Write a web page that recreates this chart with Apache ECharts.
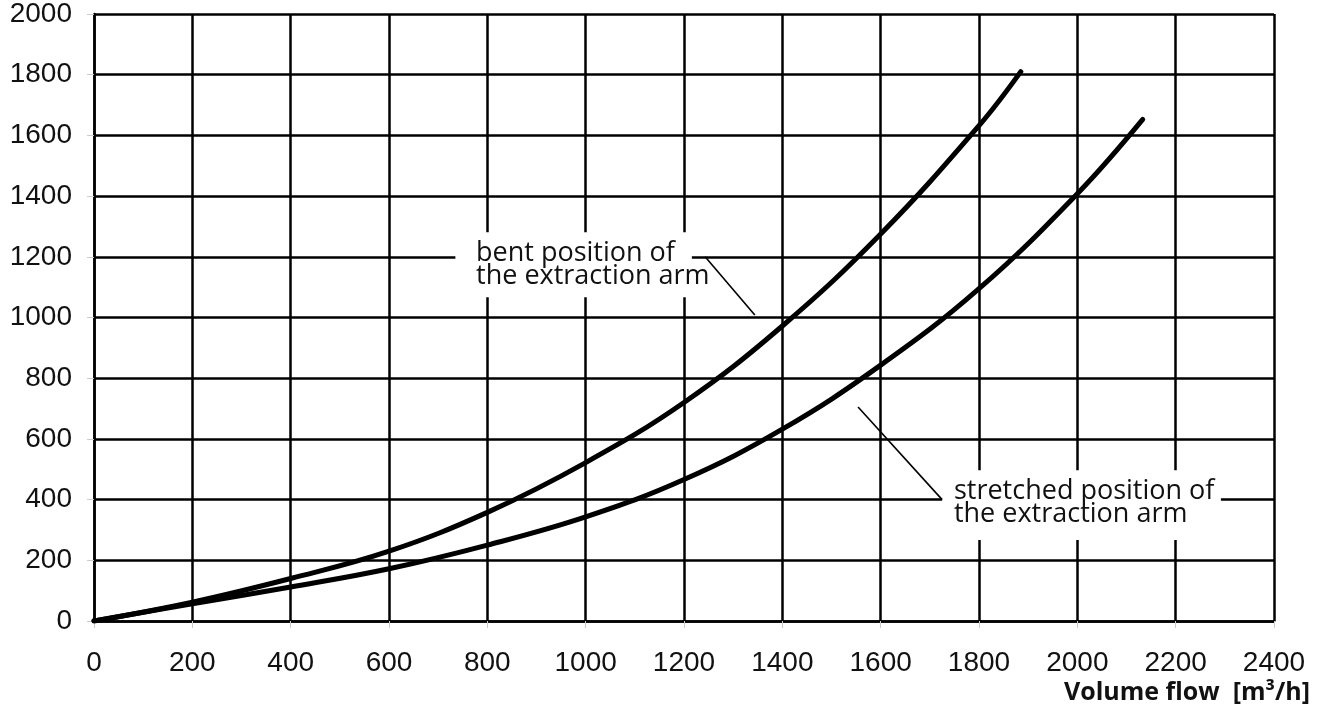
<!DOCTYPE html>
<html>
<head>
<meta charset="utf-8">
<script src="https://cdn.jsdelivr.net/npm/echarts@6/dist/echarts.min.js"></script>
<style>
html,body{margin:0;padding:0;background:#fff;}
#c{width:1318px;height:715px;}
</style>
</head>
<body>
<div id="c"></div>
<script>
const xTicks = [0,200,400,600,800,1000,1200,1400,1600,1800,2000,2200,2400];
const yTicks = [0,200,400,600,800,1000,1200,1400,1600,1800,2000];

const bentX = [0,200,400,600,800,1000,1200,1400,1600,1800,1885];
const bentY = [0,62,140,230,358,522,720,972,1275,1632,1810];

const stretchedX = [0,200,400,600,800,1000,1200,1400,1600,1800,2000,2133];
const stretchedY = [0,57,112,172,250,343,466,632,843,1095,1408,1653];

const bentLabel = ["bent position of", "the extraction arm"];
const stretchedLabel = ["stretched position of", "the extraction arm"];
const xAxisTitle = "Volume flow  [m³/h]";

// annotation anchors in data units
const bentBox = {x1: 735, y1: 1281, x2: 1216, y2: 1067, tx: 777, ty: 1250};
const bentLeader = [[1243, 1200], [1344, 1008]];
const stretchedBox = {x1: 1725, y1: 497, x2: 2292, y2: 267, tx: 1749, ty: 466};
const stretchedLeader = [[1554, 705], [1725, 400]];

const chart = echarts.init(document.getElementById('c'), null, {renderer: 'canvas'});

function pairs(xs, ys){ return xs.map((x,i)=>[x, ys[i]]); }

const option = {
  animation: false,
  backgroundColor: '#fff',
  grid: {left: 94, right: 44, top: 14, bottom: 94, show: false},
  xAxis: {
    type: 'value', min: 0, max: 2400, interval: 200,
    axisLine: {show: true, lineStyle: {color: '#000', width: 2.5}},
    axisTick: {show: true, length: 7, lineStyle: {color: '#ccc', width: 1}},
    axisLabel: {color: '#111', fontSize: 28, fontFamily: 'Liberation Sans, Arial, sans-serif', margin: 28,
      formatter: v => xTicks.includes(v) ? String(v) : ''},
    splitLine: {show: true, lineStyle: {color: '#000', width: 2.5}}
  },
  yAxis: {
    type: 'value', min: 0, max: 2000, interval: 200,
    axisLine: {show: true, lineStyle: {color: '#000', width: 2.5}},
    axisTick: {show: true, length: 7, lineStyle: {color: '#ccc', width: 1}},
    axisLabel: {color: '#111', fontSize: 28, fontFamily: 'Liberation Sans, Arial, sans-serif', margin: 22,
      formatter: v => yTicks.includes(v) ? String(v) : ''},
    splitLine: {show: true, lineStyle: {color: '#000', width: 2.5}}
  },
  series: [
    {
      type: 'line', data: pairs(bentX, bentY), smooth: 0.4, showSymbol: false,
      lineStyle: {color: '#000', width: 5, cap: 'round'}, z: 3
    },
    {
      type: 'line', data: pairs(stretchedX, stretchedY), smooth: 0.4, showSymbol: false,
      lineStyle: {color: '#000', width: 5, cap: 'round'}, z: 3
    }
  ]
};
chart.setOption(option);

function px(p){ return chart.convertToPixel({gridIndex: 0}, p); }

function boxGraphics(box, lines, leader){
  const a = px([box.x1, box.y1]);
  const b = px([box.x2, box.y2]);
  const t = px([box.tx, box.ty]);
  const l0 = px(leader[0]);
  const l1 = px(leader[1]);
  return [
    {type: 'rect', shape: {x: a[0], y: a[1], width: b[0]-a[0], height: b[1]-a[1]},
     style: {fill: '#fff'}, z: 10},
    {type: 'text', x: t[0], y: t[1], z: 11,
     style: {text: lines.join('\n'), fill: '#111', font: '27px "Open Sans", "Noto Sans", sans-serif',
       lineHeight: 23, textVerticalAlign: 'top', verticalAlign: 'top'}},
    {type: 'line', shape: {x1: l0[0], y1: l0[1], x2: l1[0], y2: l1[1]},
     style: {stroke: '#000', lineWidth: 1.6}, z: 11}
  ];
}

const g = [].concat(
  boxGraphics(bentBox, bentLabel, bentLeader),
  boxGraphics(stretchedBox, stretchedLabel, stretchedLeader),
  [{type: 'text', right: 8, bottom: 10, z: 11,
    style: {text: xAxisTitle, fill: '#111', font: 'bold 25px "Open Sans", "Noto Sans", sans-serif'}}]
);
chart.setOption({graphic: g});
</script>
</body>
</html>
